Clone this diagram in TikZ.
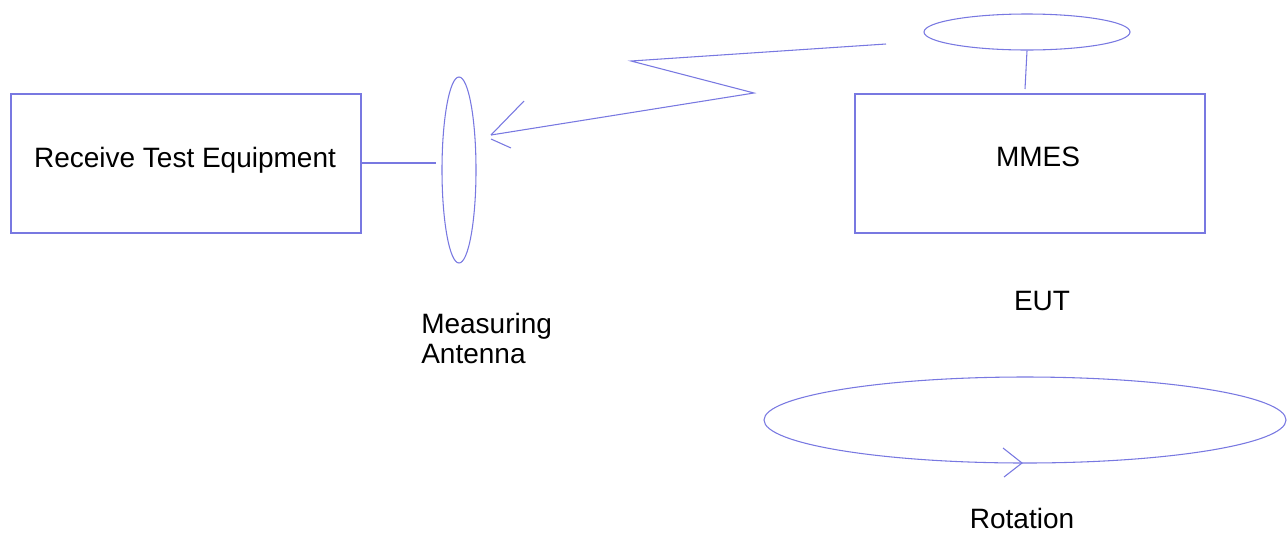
\documentclass[tikz,border=0pt]{standalone}
\usepackage{fontspec}
\setmainfont{Liberation Sans}
\usetikzlibrary{shapes.geometric}
\definecolor{ln}{RGB}{120,120,225}
\begin{document}
\begin{tikzpicture}[x=0.75pt,y=-0.75pt,
  wire/.style={draw=ln,line width=0.8pt},
  lbl/.style={inner sep=0pt,font=\fontsize{21}{22.5}\selectfont,text=black},
  boxn/.style={draw=ln,line width=0.8pt,rectangle,inner sep=0pt,minimum width=262.5pt,minimum height=104.25pt},
  ell/.style={draw=ln,line width=0.8pt,ellipse,inner sep=0pt}]
\useasboundingbox (0,0) rectangle (1287,533);
\clip (0,0) rectangle (1287,533);
% boxes
\node[boxn] (rte) at (186,163.5) {};
\node[boxn] (mmes) at (1030,163.5) {};
\node[lbl,anchor=base] (rtet) at (185,167) {Receive Test Equipment};
\node[lbl,anchor=base] (mmest) at (1038,166) {MMES};
% measuring antenna
\node[ell,minimum width=25.5pt,minimum height=139.5pt] (ant) at (459,170) {};
\coordinate (antin) at (436,163);
\draw[wire] (rte.east |- antin) -- (antin);
% EUT antenna
\node[ell,minimum width=154.5pt,minimum height=27pt] (eutant) at (1027,32) {};
\coordinate (mast) at (1025,89);
\draw[wire] (eutant.south) -- (mast);
% zigzag signal
\coordinate (z1) at (886,44);
\coordinate (z2) at (631,61);
\coordinate (z3) at (754,93);
\coordinate (tip) at (491,135);
\coordinate (h1) at (524,101);
\coordinate (h2a) at (491,139);
\coordinate (h2b) at (511,148);
\draw[wire] (z1) -- (z2) -- (z3) -- (tip);
\draw[wire] (tip) -- (h1);
\draw[wire] (h2a) -- (h2b);
% labels
\node[lbl,anchor=base] (eut) at (1042,310) {EUT};
\node[lbl,anchor=base west] (mat) at (421,333) {Measuring};
\node[lbl,anchor=base west] (mat2) at (421,363) {Antenna};
% rotation
\node[ell,minimum width=391.5pt,minimum height=64.5pt] (rot) at (1025,420) {};
\coordinate (rt) at (1022,463);
\coordinate (ra) at (1003,448);
\coordinate (rb) at (1004,477);
\draw[wire] (ra) -- (rt) -- (rb);
\node[lbl,anchor=base] (rott) at (1022,528) {Rotation};
\end{tikzpicture}
\end{document}
